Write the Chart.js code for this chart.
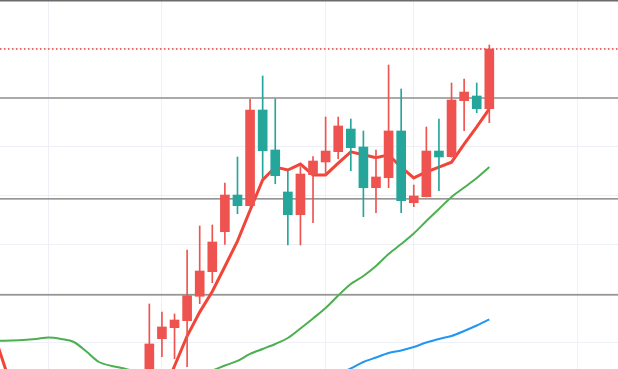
<!DOCTYPE html>
<html>
<head>
<meta charset="utf-8">
<script src="https://cdn.jsdelivr.net/npm/chart.js@4"></script>
<style>
  html, body { margin: 0; padding: 0; background: #fff; }
  #wrap { width: 618px; height: 369px; position: relative; }
</style>
</head>
<body>
<div id="wrap"><canvas id="kline"></canvas></div>
<script>
// candles (red = up, teal = down)
const candleIdx = [0, 1, 2, 3, 4, 5, 6, 7, 8, 9, 10, 11, 12, 13, 14, 15, 16, 17, 18, 19, 20, 21, 22, 23, 24, 25, 26, 27];
const opens  = [22.45, 30.88, 33.12, 34.55, 39.53, 44.55, 52.71, 60.20, 58.02, 77.55, 69.39, 60.82, 56.18, 64.35, 66.94, 69.04, 73.67, 70.00, 61.69, 63.73, 73.27, 58.63, 59.86, 69.18, 68.02, 79.45, 80.41, 77.82];
const highs  = [37.96, 36.33, 35.92, 48.98, 53.88, 54.08, 62.65, 67.96, 79.80, 84.49, 79.80, 65.16, 65.98, 68.02, 76.12, 76.12, 75.71, 73.27, 69.39, 86.73, 81.84, 62.24, 74.08, 75.71, 83.06, 83.88, 83.06, 90.82];
const lows   = [20.00, 27.20, 26.80, 25.16, 38.02, 42.31, 50.14, 56.39, 57.90, 63.73, 62.51, 50.00, 50.00, 54.55, 64.29, 67.61, 65.16, 55.78, 56.59, 61.69, 56.59, 57.82, 59.80, 61.08, 67.90, 73.33, 77.00, 74.96];
const closes = [29.80, 33.27, 34.69, 39.65, 44.69, 50.61, 60.20, 58.02, 77.55, 69.24, 64.14, 56.18, 64.49, 67.14, 69.18, 74.29, 69.86, 61.69, 63.88, 73.27, 59.04, 60.00, 69.18, 67.96, 79.59, 81.22, 77.82, 90.00];

// moving averages
const maIdx = [-12, -11, -10, -9, -8, -7, -6, -5, -4, -3, -2, -1, 0, 1, 2, 3, 4, 5, 6, 7, 8, 9, 10, 11, 12, 13, 14, 15, 16, 17, 18, 19, 20, 21, 22, 23, 24, 25, 26, 27];
const maShort = [29.2, 21.4, 16.3, 14.3, 13.3, 12.7, 12.2, 12.2, 12.7, 13.3, 14.3, 16.3, 17.6, 19.4, 25.3, 31.4, 36.3, 40.5, 45.6, 50.8, 57.1, 63.3, 65.9, 65.3, 66.5, 64.3, 64.3, 66.7, 69.0, 68.4, 67.8, 68.4, 65.9, 63.7, 64.9, 65.9, 66.9, 70.6, 74.1, 77.8];
const maMid = [30.45, 30.51, 30.61, 30.82, 31.12, 30.82, 30.20, 28.27, 26.12, 25.31, 24.80, 24.08, 23.27, 22.86, 22.86, 23.27, 23.88, 24.40, 25.41, 26.33, 27.76, 28.78, 29.80, 31.02, 32.96, 35.00, 37.14, 39.69, 42.04, 43.67, 45.71, 48.16, 50.20, 52.35, 54.90, 57.35, 59.80, 61.73, 63.67, 65.92];
const maLong = [null, null, null, null, null, null, null, null, null, null, null, null, null, null, null, null, null, null, null, null, null, null, 19.39, 20.41, 21.22, 21.84, 22.65, 23.67, 24.80, 26.12, 27.04, 27.96, 28.47, 29.18, 30.10, 30.82, 31.43, 32.45, 33.57, 34.80];

// horizontal price lines and grid ticks
const levels = [100, 80, 59.4, 39.8];
const xTicks = [-8, 1, 14, 21, 34];
const yTicks = [30, 40, 50, 60, 70, 80, 90, 100];

const xMin = -11.86, xMax = 37.22;
const yMin = 24.69, yMax = 100;

const upColor = '#ef5350';
const downColor = '#26a69a';
const candleColors = candleIdx.map((x, i) => closes[i] >= opens[i] ? upColor : downColor);
const lastClose = closes[closes.length - 1];

const levelStyles = [
    {color: '#6b6b6b', width: 3},
    {color: '#aaaaaa', width: 2},
    {color: '#747474', width: 1.3},
    {color: '#747474', width: 1.3}
];

const levelSets = levels.map((lv, i) => ({
    type: 'line',
    data: [{x: xMin, y: lv}, {x: xMax, y: lv}],
    borderColor: levelStyles[i].color,
    borderWidth: levelStyles[i].width,
    pointRadius: 0,
    order: 5
}));

const ctx = document.getElementById('kline');
const chart = new Chart(ctx, {
    data: {
        datasets: [
            {
                type: 'bar',
                data: candleIdx.map((x, i) => ({x: x, y: [opens[i], closes[i]]})),
                backgroundColor: candleColors,
                barThickness: 9,
                grouped: false,
                borderWidth: 0,
                order: 0
            },
            {
                type: 'bar',
                data: candleIdx.map((x, i) => ({x: x, y: [lows[i], highs[i]]})),
                backgroundColor: candleColors,
                barThickness: 1,
                grouped: false,
                borderWidth: 0,
                order: 1
            },
            {
                type: 'line',
                data: maIdx.map((x, i) => ({x: x, y: maShort[i]})),
                borderColor: '#f2453a',
                borderWidth: 3,
                pointRadius: 0,
                tension: 0,
                order: 2
            },
            {
                type: 'line',
                data: maIdx.map((x, i) => ({x: x, y: maMid[i]})),
                borderColor: '#4caf50',
                borderWidth: 2,
                pointRadius: 0,
                tension: 0.3,
                order: 3
            },
            {
                type: 'line',
                data: maIdx.map((x, i) => ({x: x, y: maLong[i]})),
                borderColor: '#2196f3',
                borderWidth: 2,
                pointRadius: 0,
                tension: 0.3,
                order: 3
            },
            {
                // last price line
                type: 'line',
                data: [{x: xMin, y: lastClose}, {x: xMax, y: lastClose}],
                borderColor: '#f0403a',
                borderWidth: 1.5,
                borderDash: [1.5, 2.5],
                pointRadius: 0,
                order: 4
            },
            ...levelSets
        ]
    },
    options: {
        responsive: true,
        maintainAspectRatio: false,
        animation: false,
        layout: {padding: 0},
        plugins: {
            legend: {display: false},
            tooltip: {enabled: false}
        },
        scales: {
            x: {
                type: 'linear',
                offset: false,
                min: xMin,
                max: xMax,
                afterBuildTicks: (scale) => { scale.ticks = xTicks.map(v => ({value: v})); },
                ticks: {display: false},
                grid: {color: '#efeff6', lineWidth: 1, drawTicks: false, offset: false},
                border: {display: false}
            },
            y: {
                min: yMin,
                max: yMax,
                afterBuildTicks: (scale) => { scale.ticks = yTicks.map(v => ({value: v})); },
                ticks: {display: false},
                grid: {color: '#efeff6', lineWidth: 1, drawTicks: false},
                border: {display: false}
            }
        }
    }
});
</script>
</body>
</html>
